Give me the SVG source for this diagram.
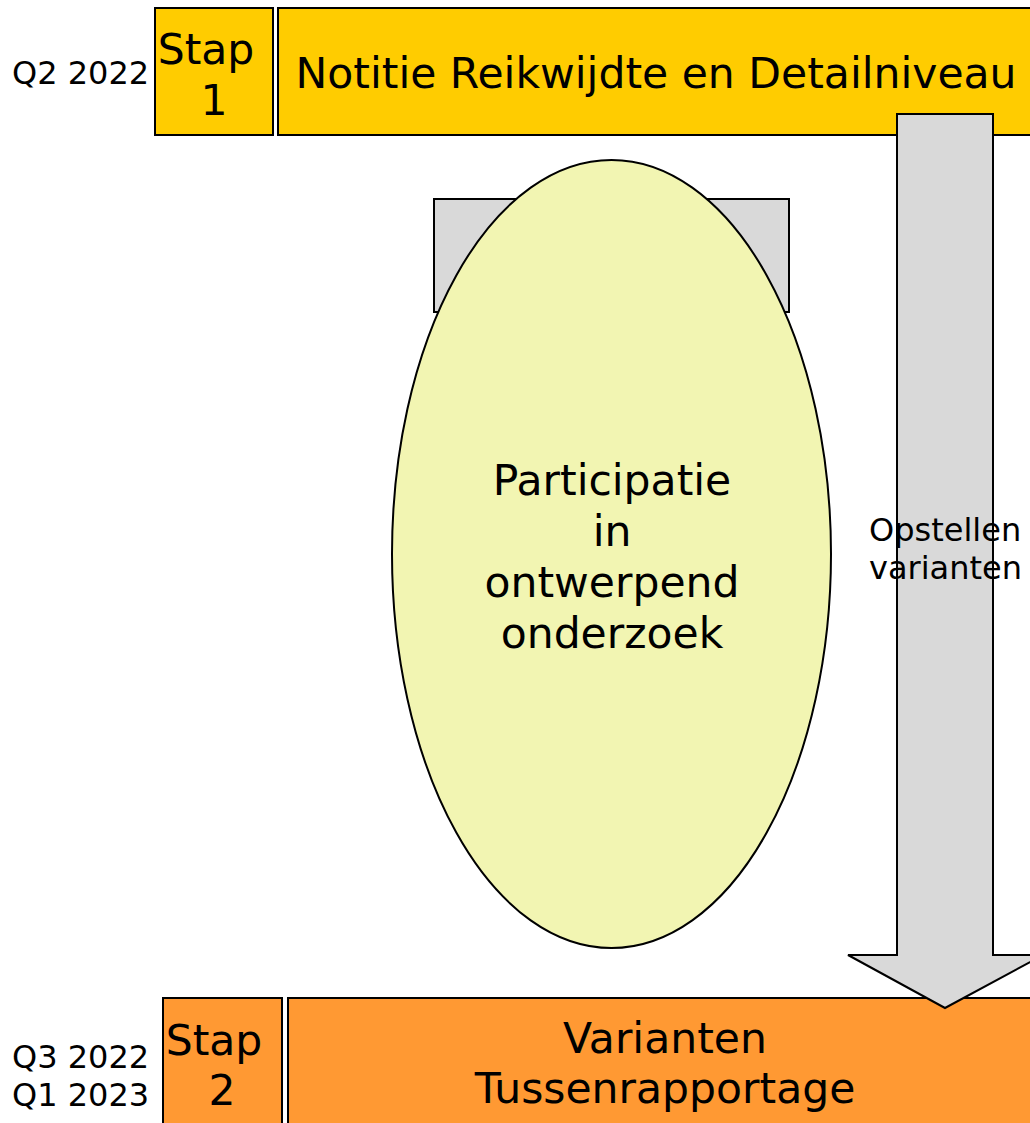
<svg xmlns="http://www.w3.org/2000/svg" width="1030" height="1123" viewBox="0 0 1030 1123">
<style>
text{font-family:"DejaVu Sans","Verdana",sans-serif;fill:#000}
.big{font-size:42.5px}
.sm{font-size:32px}
.box{stroke:#000;stroke-width:2}
</style>
<rect width="1030" height="1123" fill="#fff"/>
<g id="label-q2"><text class="sm" x="12" y="84">Q2 2022</text></g>
<g id="stap1">
<rect class="box" x="155" y="8" width="118" height="127" fill="#FFCC00"/>
<text class="big" x="206" y="64" text-anchor="middle">Stap</text>
<text class="big" x="214" y="115" text-anchor="middle">1</text>
</g>
<g id="nrd">
<rect class="box" x="278" y="8" width="760" height="127" fill="#FFCC00"/>
<text class="big" x="656" y="88" text-anchor="middle">Notitie Reikwijdte en Detailniveau</text>
</g>
<g id="label-q3"><text class="sm" x="12" y="1068">Q3 2022</text><text class="sm" x="12" y="1106">Q1 2023</text></g>
<g id="stap2">
<rect class="box" x="163" y="998" width="119" height="140" fill="#FF9933"/>
<text class="big" x="214" y="1055" text-anchor="middle">Stap</text>
<text class="big" x="222" y="1105" text-anchor="middle">2</text>
</g>
<g id="varianten">
<rect class="box" x="288" y="998" width="760" height="140" fill="#FF9933"/>
<text class="big" x="665" y="1053" text-anchor="middle">Varianten</text>
<text class="big" x="665" y="1103" text-anchor="middle">Tussenrapportage</text>
</g>
<g id="connectors">
<path class="box" d="M897,114 H993 V955 H1043 L945,1008 L848,955 H897 Z" fill="#D9D9D9"/>
</g>
<g id="opstellen">
<text class="sm" x="869" y="541">Opstellen</text>
<text class="sm" x="869" y="579">varianten</text>
</g>
<g id="grey-box"><rect class="box" x="434" y="199" width="355" height="113" fill="#D9D9D9"/></g>
<g id="participatie">
<ellipse class="box" cx="611.5" cy="554" rx="219.5" ry="394" fill="#F2F5B2"/>
<text class="big" x="612" y="495" text-anchor="middle">Participatie</text>
<text class="big" x="612" y="546" text-anchor="middle">in</text>
<text class="big" x="612" y="597" text-anchor="middle">ontwerpend</text>
<text class="big" x="612" y="648" text-anchor="middle">onderzoek</text>
</g>
</svg>
